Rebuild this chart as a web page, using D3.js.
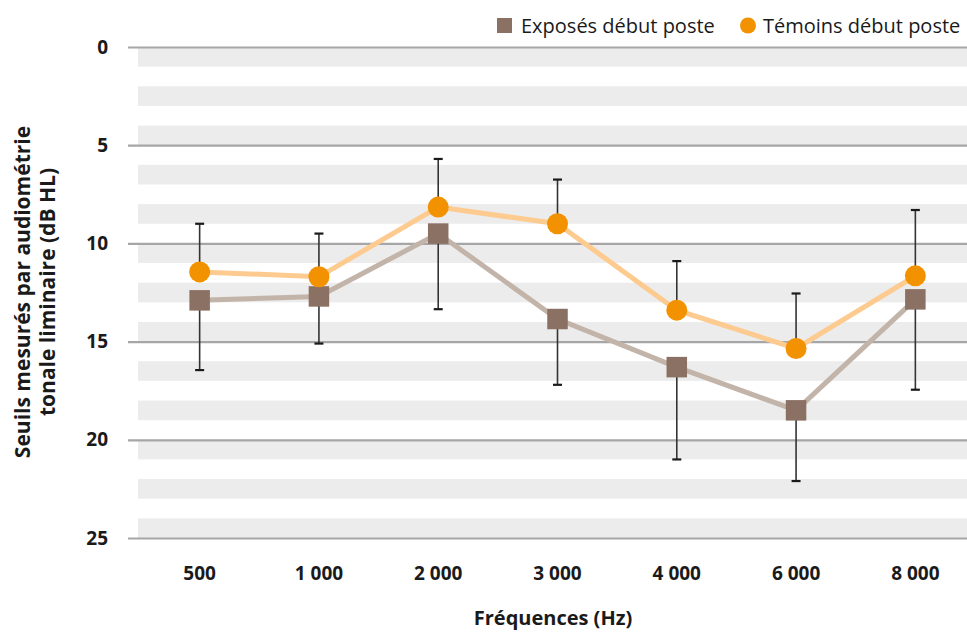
<!DOCTYPE html>
<html>
<head>
<meta charset="utf-8">
<script src="https://cdnjs.cloudflare.com/ajax/libs/d3/7.8.5/d3.min.js"></script>
<style>
  body { margin: 0; background: #fff; }
  text { font-family: "Open Sans", sans-serif; fill: #1a1a1a; }
</style>
</head>
<body>
<div id="chart"></div>
<script>
// categories and values
var frequencies = ['500', '1 000', '2 000', '3 000', '4 000', '6 000', '8 000']
var exposes = [12.9, 12.7, 9.5, 13.85, 16.3, 18.5, 12.85]
var exposesLow = [16.45, 15.1, 13.35, 17.2, 21.0, 22.1, 17.45]   // end of the downward error bar
var temoins = [11.45, 11.7, 8.15, 9.0, 13.4, 15.35, 11.65]
var temoinsHigh = [9.0, 9.5, 5.7, 6.75, 10.9, 12.55, 8.3]        // end of the upward error bar
var yTicks = [0, 5, 10, 15, 20, 25]

var width = 967
var height = 632

var svg = d3.select('#chart')
  .append('svg')
  .attr('width', width)
  .attr('height', height)

var x = d3.scaleBand().domain(frequencies).range([140, 975])
var y = d3.scaleLinear().domain([0, 25]).range([47, 538])
var cx = function (i) { return x(frequencies[i]) + x.bandwidth() / 2 }

// grey bands, one every second unit
var bands = d3.range(0, 25, 2)
svg.selectAll('.band')
  .data(bands)
  .enter()
  .append('rect')
  .attr('x', 138)
  .attr('width', width - 138)
  .attr('y', d => y(d))
  .attr('height', d => y(d + 1) - y(d))
  .style('fill', '#ebeceb')

// major grid lines + labels
var yAxis = d3.axisLeft(y).tickValues(yTicks).tickSize(-(width - 128)).tickPadding(20)
var gy = svg.append('g').attr('transform', 'translate(128,0)').call(yAxis)
gy.select('.domain').remove()
gy.selectAll('.tick line').attr('x2', width - 128).style('stroke', '#a6a6a6').style('stroke-width', 2.2)
gy.selectAll('.tick text')
  .attr('x', -20)
  .style('font-size', '19px')
  .style('font-weight', 'bold')

// x labels
svg.selectAll('.xlabel')
  .data(frequencies)
  .enter()
  .append('text')
  .attr('x', (d, i) => cx(i))
  .attr('y', 580)
  .attr('text-anchor', 'middle')
  .style('font-size', '19px')
  .style('font-weight', 'bold')
  .text(d => d)

// lines
var line = function (vals) {
  return d3.line().x((d, i) => cx(i)).y(d => y(d))(vals)
}
svg.append('path').attr('d', line(exposes))
  .style('fill', 'none').style('stroke', '#c3b4aa').style('stroke-width', 5)
svg.append('path').attr('d', line(temoins))
  .style('fill', 'none').style('stroke', '#fdca8f').style('stroke-width', 5)

// error bars
function errorBars(vals, ends) {
  var g = svg.append('g')
  g.selectAll('line.bar')
    .data(vals)
    .enter()
    .append('line')
    .attr('x1', (d, i) => cx(i)).attr('x2', (d, i) => cx(i))
    .attr('y1', d => y(d)).attr('y2', (d, i) => y(ends[i]))
    .style('stroke', '#333').style('stroke-width', 1.6)
  g.selectAll('line.cap')
    .data(ends)
    .enter()
    .append('line')
    .attr('x1', (d, i) => cx(i) - 4.5).attr('x2', (d, i) => cx(i) + 4.5)
    .attr('y1', d => y(d)).attr('y2', d => y(d))
    .style('stroke', '#1a1a1a').style('stroke-width', 2.2)
}
errorBars(temoins, temoinsHigh)
errorBars(exposes, exposesLow)

// markers
var sq = 20.5
svg.selectAll('.sq')
  .data(exposes)
  .enter()
  .append('rect')
  .attr('x', (d, i) => cx(i) - sq / 2)
  .attr('y', d => y(d) - sq / 2)
  .attr('width', sq).attr('height', sq)
  .style('fill', '#8b7064')
svg.selectAll('.dot')
  .data(temoins)
  .enter()
  .append('circle')
  .attr('cx', (d, i) => cx(i))
  .attr('cy', d => y(d))
  .attr('r', 10.5)
  .style('fill', '#f39200')

// legend
svg.append('rect').attr('x', 497).attr('y', 18).attr('width', 15).attr('height', 15).style('fill', '#8b7064')
svg.append('text').attr('x', 521).attr('y', 33).style('font-size', '20px').text('Exposés début poste')
svg.append('circle').attr('cx', 748).attr('cy', 25.5).attr('r', 8).style('fill', '#f39200')
svg.append('text').attr('x', 763).attr('y', 33).style('font-size', '20px').text('Témoins début poste')

// axis titles
svg.append('text')
  .attr('x', 553).attr('y', 625)
  .attr('text-anchor', 'middle')
  .style('font-size', '20px').style('font-weight', 'bold')
  .text('Fréquences (Hz)')

var yt = svg.append('text')
  .attr('transform', 'translate(0,292) rotate(-90)')
  .attr('text-anchor', 'middle')
  .style('font-size', '21px').style('font-weight', 'bold')
yt.append('tspan').attr('x', 0).attr('y', 30).text('Seuils mesurés par audiométrie')
yt.append('tspan').attr('x', 0).attr('y', 55).text('tonale liminaire (dB HL)')
</script>
</body>
</html>
